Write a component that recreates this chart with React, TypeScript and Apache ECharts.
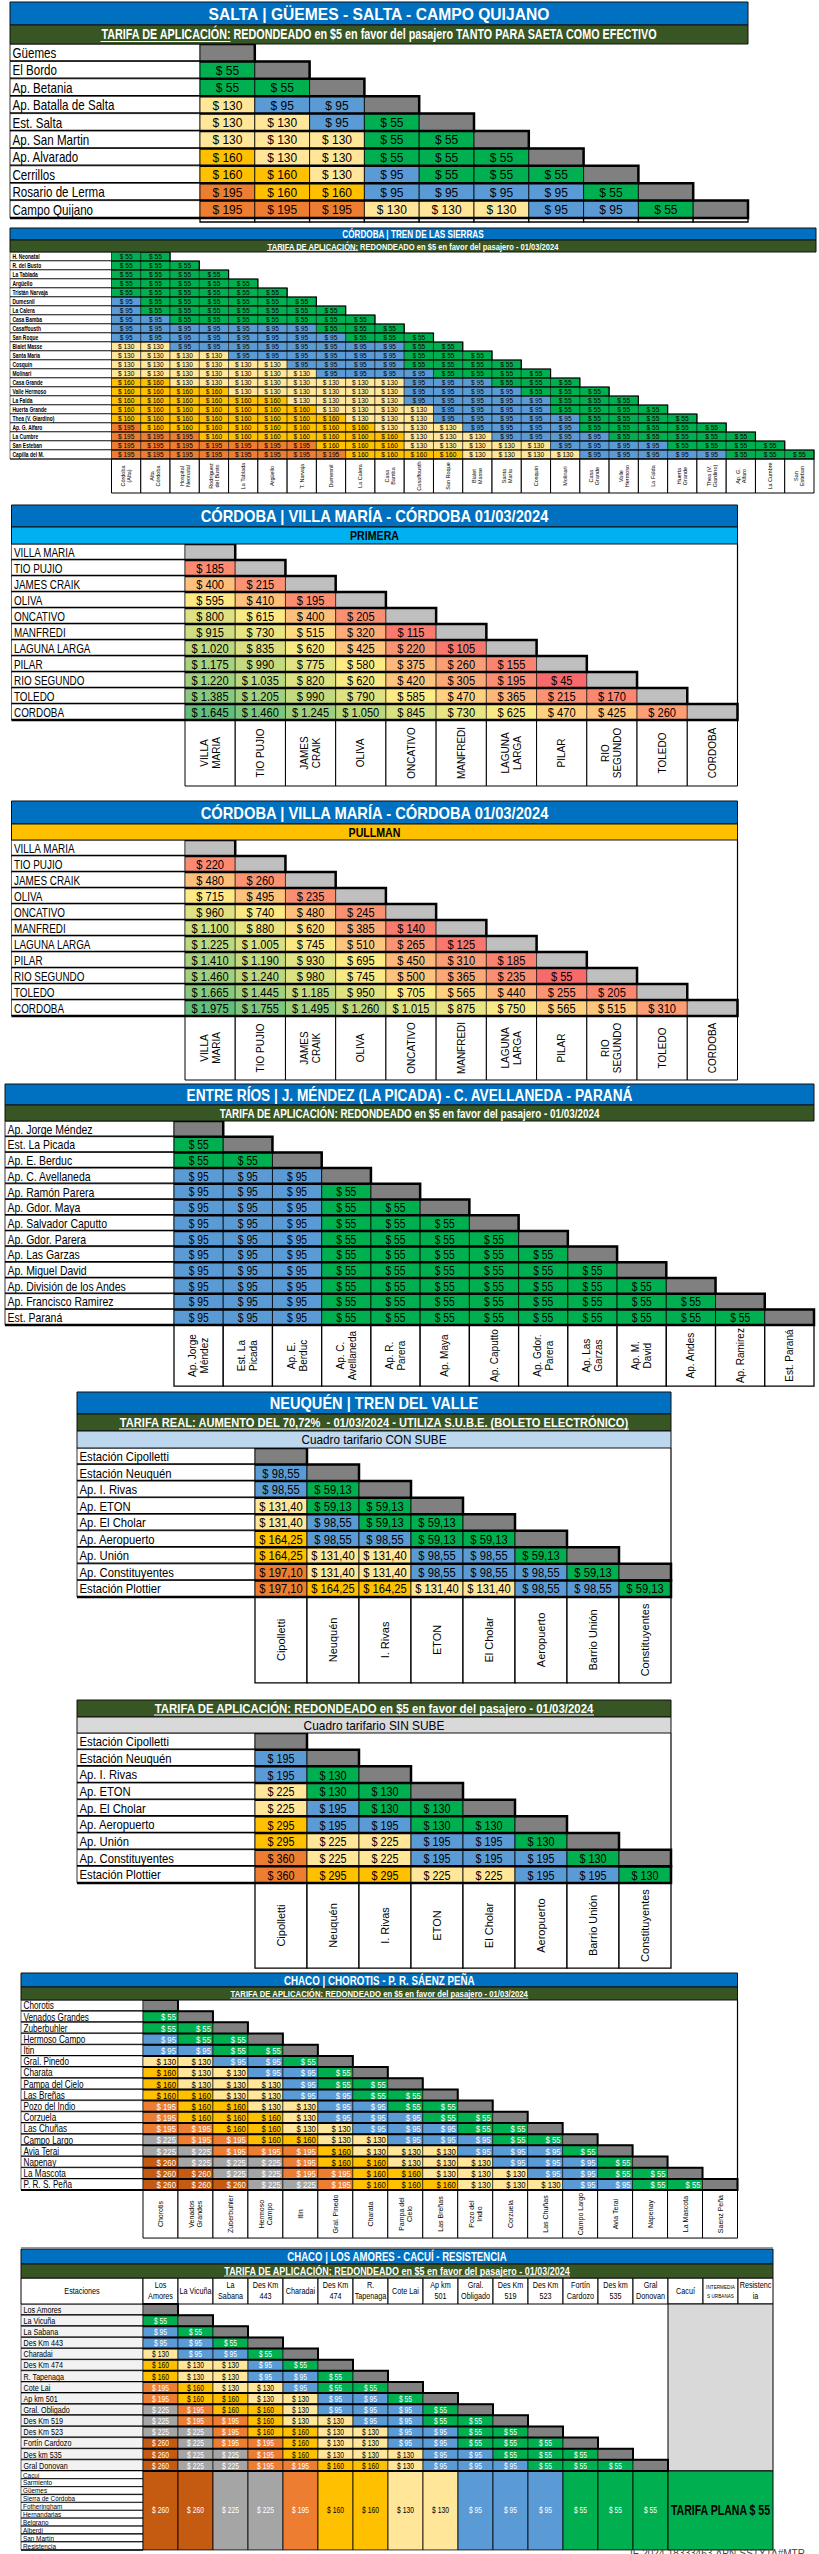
import React, { useEffect, useRef } from 'react';
import * as echarts from 'echarts';

// ===================== DATA =====================
// SALTA | Güemes - Salta - Campo Quijano
const saltaStations = ['Güemes', 'El Bordo', 'Ap. Betania', 'Ap. Batalla de Salta', 'Est. Salta', 'Ap. San Martin', 'Ap. Alvarado', 'Cerrillos', 'Rosario de Lerma', 'Campo Quijano'];
const saltaFares = [
  [],
  [55],
  [55, 55],
  [130, 95, 95],
  [130, 130, 95, 55],
  [130, 130, 130, 55, 55],
  [160, 130, 130, 55, 55, 55],
  [160, 160, 130, 95, 55, 55, 55],
  [195, 160, 160, 95, 95, 95, 95, 55],
  [195, 195, 195, 130, 130, 130, 95, 95, 55],
];

// CÓRDOBA | Tren de las Sierras
const sierrasRows = ['H. Neonatal', 'R. del Busto', 'La Tablada', 'Argüello', 'Tristán Narvaja', 'Dumesnil', 'La Calera', 'Casa Bamba', 'Casaffousth', 'San Roque', 'Bialet Masse', 'Santa María', 'Cosquín', 'Molinari', 'Casa Grande', 'Valle Hermoso', 'La Falda', 'Huerta Grande', 'Thea (V. Giardino)', 'Ap. G. Alfaro', 'La Cumbre', 'San Esteban', 'Capilla del M.'];
const sierrasCols = ['Córdoba\n(Alta)', 'Alta\nCórdoba', 'Hospital\nNeonatal', 'Rodríguez\ndel Busto', 'La Tablada', 'Argüello', 'T. Narvaja', 'Dumesnil', 'La Calera', 'Casa\nBamba', 'Casaffousth', 'San Roque', 'Bialet\nMasse', 'Santa\nMaría', 'Cosquín', 'Molinari', 'Casa\nGrande', 'Valle\nHermoso', 'La Falda', 'Huerta\nGrande', 'Thea (V.\nGiardino)', 'Ap. G.\nAlfaro', 'La Cumbre', 'San\nEsteban'];
const sierrasFares = [
  [55, 55],
  [55, 55, 55],
  [55, 55, 55, 55],
  [55, 55, 55, 55, 55],
  [55, 55, 55, 55, 55, 55],
  [95, 55, 55, 55, 55, 55, 55],
  [95, 55, 55, 55, 55, 55, 55, 55],
  [95, 95, 55, 55, 55, 55, 55, 55, 55],
  [95, 95, 95, 95, 95, 95, 95, 55, 55, 55],
  [95, 95, 95, 95, 95, 95, 95, 95, 55, 55, 55],
  [130, 130, 95, 95, 95, 95, 95, 95, 95, 95, 55, 55],
  [130, 130, 130, 130, 95, 95, 95, 95, 95, 95, 55, 55, 55],
  [130, 130, 130, 130, 130, 130, 95, 95, 95, 95, 55, 55, 55, 55],
  [130, 130, 130, 130, 130, 130, 130, 95, 95, 95, 95, 55, 55, 55, 55],
  [160, 160, 130, 130, 130, 130, 130, 130, 130, 130, 95, 95, 95, 55, 55, 55],
  [160, 160, 160, 160, 130, 130, 130, 130, 130, 130, 95, 95, 95, 95, 55, 55, 55],
  [160, 160, 160, 160, 160, 160, 130, 130, 130, 130, 95, 95, 95, 95, 95, 55, 55, 55],
  [160, 160, 160, 160, 160, 160, 160, 130, 130, 130, 130, 95, 95, 95, 95, 55, 55, 55, 55],
  [160, 160, 160, 160, 160, 160, 160, 160, 130, 130, 130, 95, 95, 95, 95, 95, 55, 55, 55, 55],
  [195, 160, 160, 160, 160, 160, 160, 160, 160, 130, 130, 130, 95, 95, 95, 95, 55, 55, 55, 55, 55],
  [195, 195, 195, 160, 160, 160, 160, 160, 160, 160, 130, 130, 130, 95, 95, 95, 95, 55, 55, 55, 55, 55],
  [195, 195, 195, 195, 195, 195, 195, 160, 160, 160, 130, 130, 130, 130, 130, 95, 95, 95, 95, 55, 55, 55, 55],
  [195, 195, 195, 195, 195, 195, 195, 195, 160, 160, 160, 160, 130, 130, 130, 130, 95, 95, 95, 95, 95, 55, 55, 55],
];

// CÓRDOBA | Villa María - Córdoba
const vmStations = ['VILLA MARIA', 'TIO PUJIO', 'JAMES CRAIK', 'OLIVA', 'ONCATIVO', 'MANFREDI', 'LAGUNA LARGA', 'PILAR', 'RIO SEGUNDO', 'TOLEDO', 'CORDOBA'];
const vmColLabels = ['VILLA\nMARIA', 'TIO PUJIO', 'JAMES\nCRAIK', 'OLIVA', 'ONCATIVO', 'MANFREDI', 'LAGUNA\nLARGA', 'PILAR', 'RIO\nSEGUNDO', 'TOLEDO', 'CORDOBA'];
const vmPrimera = [
  [],
  [185],
  [400, 215],
  [595, 410, 195],
  [800, 615, 400, 205],
  [915, 730, 515, 320, 115],
  [1020, 835, 620, 425, 220, 105],
  [1175, 990, 775, 580, 375, 260, 155],
  [1220, 1035, 820, 620, 420, 305, 195, 45],
  [1385, 1205, 990, 790, 585, 470, 365, 215, 170],
  [1645, 1460, 1245, 1050, 845, 730, 625, 470, 425, 260],
];
const vmPullman = [
  [],
  [220],
  [480, 260],
  [715, 495, 235],
  [960, 740, 480, 245],
  [1100, 880, 620, 385, 140],
  [1225, 1005, 745, 510, 265, 125],
  [1410, 1190, 930, 695, 450, 310, 185],
  [1460, 1240, 980, 745, 500, 365, 235, 55],
  [1665, 1445, 1185, 950, 705, 565, 440, 255, 205],
  [1975, 1755, 1495, 1260, 1015, 875, 750, 565, 515, 310],
];

// ENTRE RÍOS | J. Méndez (La Picada) - C. Avellaneda - Paraná
const erRows = ['Ap. Jorge Méndez', 'Est. La Picada', 'Ap. E. Berduc', 'Ap. C. Avellaneda', 'Ap. Ramón Parera', 'Ap. Gdor. Maya', 'Ap. Salvador Caputto', 'Ap. Gdor. Parera', 'Ap. Las Garzas', 'Ap. Miguel David', 'Ap. División de los Andes', 'Ap. Francisco Ramirez', 'Est. Paraná'];
const erCols = ['Ap. Jorge\nMéndez', 'Est. La\nPicada', 'Ap. E.\nBerduc', 'Ap. C.\nAvellaneda', 'Ap. R.\nParera', 'Ap. Maya', 'Ap. Caputto', 'Ap. Gdor.\nParera', 'Ap. Las\nGarzas', 'Ap. M.\nDavid', 'Ap. Andes', 'Ap. Ramirez', 'Est. Paraná'];
const erFares = [
  [],
  [55],
  [55, 55],
  [95, 95, 95],
  [95, 95, 95, 55],
  [95, 95, 95, 55, 55],
  [95, 95, 95, 55, 55, 55],
  [95, 95, 95, 55, 55, 55, 55],
  [95, 95, 95, 55, 55, 55, 55, 55],
  [95, 95, 95, 55, 55, 55, 55, 55, 55],
  [95, 95, 95, 55, 55, 55, 55, 55, 55, 55],
  [95, 95, 95, 55, 55, 55, 55, 55, 55, 55, 55],
  [95, 95, 95, 55, 55, 55, 55, 55, 55, 55, 55, 55],
];

// NEUQUÉN | Tren del Valle
const nqRows = ['Estación Cipolletti', 'Estación Neuquén', 'Ap. I. Rivas', 'Ap. ETON', 'Ap. El Cholar', 'Ap. Aeropuerto', 'Ap. Unión', 'Ap. Constituyentes', 'Estación Plottier'];
const nqCols = ['Cipolletti', 'Neuquén', 'I. Rivas', 'ETON', 'El Cholar', 'Aeropuerto', 'Barrio Unión', 'Constituyentes'];
const nqConSube = [
  [],
  [98.55],
  [98.55, 59.13],
  [131.40, 59.13, 59.13],
  [131.40, 98.55, 59.13, 59.13],
  [164.25, 98.55, 98.55, 59.13, 59.13],
  [164.25, 131.40, 131.40, 98.55, 98.55, 59.13],
  [197.10, 131.40, 131.40, 98.55, 98.55, 98.55, 59.13],
  [197.10, 164.25, 164.25, 131.40, 131.40, 98.55, 98.55, 59.13],
];
const nqSinSube = [
  [],
  [195],
  [195, 130],
  [225, 130, 130],
  [225, 195, 130, 130],
  [295, 195, 195, 130, 130],
  [295, 225, 225, 195, 195, 130],
  [360, 225, 225, 195, 195, 195, 130],
  [360, 295, 295, 225, 225, 195, 195, 130],
];

// CHACO | Chorotis - P. R. Sáenz Peña
const chRows = ['Chorotis', 'Venados Grandes', 'Zuberbuhler', 'Hermoso Campo', 'Itin', 'Gral. Pinedo', 'Charata', 'Pampa del Cielo', 'Las Breñas', 'Pozo del Indio', 'Corzuela', 'Las Chuñas', 'Campo Largo', 'Avia Terai', 'Napenay', 'La Mascota', 'P. R. S. Peña'];
const chCols = ['Chorotis', 'Venados\nGrandes', 'Zuberbuhler', 'Hermoso\nCampo', 'Itin', 'Gral. Pinedo', 'Charata', 'Pampa del\nCielo', 'Las Breñas', 'Pozo del\nIndio', 'Corzuela', 'Las Chuñas', 'Campo Largo', 'Avia Terai', 'Napenay', 'La Mascota', 'Saenz Peña'];
const chFares = [
  [],
  [55],
  [55, 55],
  [95, 55, 55],
  [95, 95, 55, 55],
  [130, 130, 95, 95, 55],
  [160, 130, 130, 95, 95, 55],
  [160, 130, 130, 130, 95, 55, 55],
  [160, 160, 130, 130, 95, 95, 55, 55],
  [195, 160, 160, 130, 130, 95, 95, 55, 55],
  [195, 160, 160, 160, 130, 95, 95, 95, 55, 55],
  [195, 195, 160, 160, 130, 130, 95, 95, 95, 55, 55],
  [225, 195, 195, 160, 160, 130, 130, 95, 95, 95, 55, 55],
  [225, 225, 195, 195, 195, 160, 130, 130, 130, 95, 95, 95, 55],
  [260, 225, 225, 225, 195, 160, 160, 130, 130, 130, 95, 95, 95, 55],
  [260, 260, 225, 225, 195, 195, 160, 160, 130, 130, 130, 95, 95, 55, 55],
  [260, 260, 260, 225, 225, 195, 160, 160, 160, 130, 130, 130, 95, 95, 55, 55],
];

// CHACO | Los Amores - Cacuí - Resistencia
const laRows = ['Los Amores', 'La Vicuña', 'La Sabana', 'Des Km 443', 'Charadai', 'Des Km 474', 'R. Tapenaga', 'Cote Lai', 'Ap km 501', 'Gral. Obligado', 'Des Km 519', 'Des Km 523', 'Fortín Cardozo', 'Des km 535', 'Gral Donovan'];
const laCols = ['Los Amores', 'La Vicuña', 'La Sabana', 'Des Km 443', 'Charadai', 'Des Km 474', 'R. Tapenaga', 'Cote Lai', 'Ap km 501', 'Gral. Obligado', 'Des Km 519', 'Des Km 523', 'Fortín Cardozo', 'Des km 535', 'Gral Donovan', 'Cacuí', 'Intermedias urbanas', 'Resistencia'];
const laColLabels = ['Los\nAmores', 'La Vicuña', 'La\nSabana', 'Des Km\n443', 'Charadai', 'Des Km\n474', 'R.\nTapenaga', 'Cote Lai', 'Ap km\n501', 'Gral.\nObligado', 'Des Km\n519', 'Des Km\n523', 'Fortín\nCardozo', 'Des km\n535', 'Gral\nDonovan', 'Cacuí', 'INTERMEDIA\nS URBANAS', 'Resistenc\nia'];
const laFares = [
  [],
  [55],
  [95, 55],
  [95, 95, 55],
  [130, 95, 95, 55],
  [160, 130, 130, 95, 55],
  [160, 130, 130, 95, 95, 55],
  [195, 160, 130, 130, 95, 55, 55],
  [195, 160, 160, 130, 130, 95, 95, 55],
  [225, 195, 160, 160, 130, 95, 95, 95, 55],
  [225, 195, 195, 160, 130, 130, 95, 95, 55, 55],
  [225, 225, 195, 160, 160, 130, 130, 95, 95, 55, 55],
  [260, 225, 195, 195, 160, 130, 130, 95, 95, 55, 55, 55],
  [260, 225, 225, 195, 160, 130, 130, 130, 95, 95, 55, 55, 55],
  [260, 225, 225, 195, 195, 160, 160, 130, 95, 95, 95, 55, 55, 55],
];
const laUrbanRows = ['Cacuí', 'Sarmiento', 'Güemes', 'Sierra de Córdoba', 'Fotheringham', 'Hernandarias', 'Belgrano', 'Alberdi', 'San Martín', 'Resistencia'];
const laUrbanFares = [260, 260, 225, 225, 195, 160, 160, 130, 130, 95, 95, 95, 55, 55, 55];
const laFlatFare = 55;

// ===================== STYLE HELPERS =====================
const FONT = "'Liberation Sans', Arial, sans-serif";
const TIER_COLORS = ['#00B050', '#5B9BD5', '#FFE699', '#FFC000', '#ED7D31', '#A5A5A5', '#C55A11'];

let _ctx: any = null;
function tw(text: string, size: number, weight = 'normal', family = FONT) {
  if (!_ctx) _ctx = document.createElement('canvas').getContext('2d');
  _ctx.font = `${weight} ${size}px ${family}`;
  return Math.max(...String(text).split('\n').map((s) => _ctx.measureText(s).width));
}

function money(v: number, dec: number) {
  const [i, f] = v.toFixed(dec).split('.');
  return '$ ' + i.replace(/\B(?=(\d{3})+(?!\d))/g, '.') + (f ? ',' + f : '');
}

function tierScale(values: number[]) {
  const distinct = Array.from(new Set(values)).sort((a, b) => a - b);
  return {
    color: (v: number) => TIER_COLORS[distinct.indexOf(v)] || '#fff',
    rank: (v: number) => distinct.indexOf(v),
  };
}

function hex(c: string) { return [1, 3, 5].map((i) => parseInt(c.slice(i, i + 2), 16)); }
function lerp(a: string, b: string, t: number) {
  const A = hex(a), B = hex(b);
  const k = Math.max(0, Math.min(1, t));
  return 'rgb(' + A.map((x, i) => Math.round(x + (B[i] - x) * k)).join(',') + ')';
}
function excelScale(values: number[]) {
  const s = [...values].sort((a, b) => a - b);
  const min = s[0], max = s[s.length - 1];
  const n = s.length;
  const mid = n % 2 ? s[(n - 1) / 2] : (s[n / 2 - 1] + s[n / 2]) / 2;
  return (v: number) => (v <= mid ? lerp('#F8696B', '#FFEB84', (v - min) / (mid - min)) : lerp('#FFEB84', '#63BE7B', (v - mid) / (max - mid)));
}

// ===================== TABLE DEFINITIONS =====================
const TABLES: any[] = [
  {
    key: 'salta', rows: saltaStations, cols: saltaStations, fares: saltaFares, diag: true, scale: 'tier',
    box: { x0: 10, xl: 200, xr: 748, top: 44, rh: 17.4, colH: 4 },
    labelFont: 14, labelFit: ['Ap. Batalla de Salta', 102], cellFont: 13, cellFit: ['$ 130', 30],
    thick: 2.5, thin: 0.8, diagColor: '#808080', dec: 0,
  },
  {
    key: 'sierras', rows: sierrasRows, cols: sierrasCols, fares: sierrasFares, diag: false, scale: 'tier',
    box: { x0: 10, xl: 111.5, xr: 814, top: 252, rh: 9, colH: 34 },
    labelFont: 6.5, labelBold: true, labelFit: ['Thea (V. Giardino)', 42], cellFont: 6.3, cellFit: ['$ 130', 16.5],
    colFont: 5.5, thick: 1.2, thin: 0.5, diagColor: '#808080', dec: 0,
  },
  {
    key: 'vm1', rows: vmStations, cols: vmColLabels, fares: vmPrimera, diag: true, scale: 'excel',
    box: { x0: 11.5, xl: 185, xr: 737.5, top: 544, rh: 16, colH: 66 },
    labelFont: 12, labelFit: ['LAGUNA LARGA', 77], cellFont: 12, cellFit: ['$ 1.645', 37],
    colFont: 10, thick: 2.5, thin: 0.6, diagColor: '#BFBFBF', dec: 0,
  },
  {
    key: 'vm2', rows: vmStations, cols: vmColLabels, fares: vmPullman, diag: true, scale: 'excel',
    box: { x0: 11.5, xl: 185, xr: 737.5, top: 840, rh: 16, colH: 64 },
    labelFont: 12, labelFit: ['LAGUNA LARGA', 77], cellFont: 12, cellFit: ['$ 1.645', 37],
    colFont: 10, thick: 2.5, thin: 0.6, diagColor: '#BFBFBF', dec: 0,
  },
  {
    key: 'er', rows: erRows, cols: erCols, fares: erFares, diag: true, scale: 'tier',
    box: { x0: 5, xl: 174, xr: 814, top: 1121, rh: 15.7, colH: 61 },
    labelFont: 13, labelFit: ['Ap. División de los Andes', 119], cellFont: 12, cellFit: ['$ 95', 20],
    colFont: 10, thick: 2.5, thin: 0.8, diagColor: '#808080', dec: 0,
  },
  {
    key: 'nq1', rows: nqRows, cols: nqCols, fares: nqConSube, diag: true, scale: 'tier',
    box: { x0: 77, xl: 255, xr: 671, top: 1448, rh: 16.55, colH: 86 },
    labelFont: 13, labelFit: ['Ap. Constituyentes', 94.5], cellFont: 13, cellFit: ['$ 131,40', 43.5],
    colFont: 11, thick: 2.5, thin: 0.8, diagColor: '#808080', dec: 2,
  },
  {
    key: 'nq2', rows: nqRows, cols: nqCols, fares: nqSinSube, diag: true, scale: 'tier',
    box: { x0: 77, xl: 255, xr: 671, top: 1733, rh: 16.67, colH: 85 },
    labelFont: 13, labelFit: ['Ap. Constituyentes', 94.5], cellFont: 13, cellFit: ['$ 225', 27],
    colFont: 11, thick: 2.5, thin: 0.8, diagColor: '#808080', dec: 0,
  },
  {
    key: 'ch', rows: chRows, cols: chCols, fares: chFares, diag: true, scale: 'tier', lightText: true,
    box: { x0: 21, xl: 143, xr: 737.5, top: 2000, rh: 11.18, colH: 48 },
    labelFont: 10, labelFit: ['Venados Grandes', 65.6], cellFont: 9, cellFit: ['$ 130', 19.4], cellAlign: 'right',
    colFont: 7, thick: 2, thin: 0.6, diagColor: '#808080', dec: 0,
  },
  {
    key: 'la', rows: laRows, cols: laCols, fares: laFares, diag: true, scale: 'tier', lightText: true,
    box: { x0: 21, xl: 143, xr: 773, top: 2304, rh: 11.13, colH: 0 },
    labelFont: 9, labelFit: ['Fortín Cardozo', 48], labelFill: '#F2F2F2', cellFont: 8.5, cellFit: ['$ 130', 16.8],
    thick: 2, thin: 0.6, diagColor: '#808080', dec: 0,
  },
];

const BARS: any[] = [
  { x1: 10, x2: 748, y1: 2, y2: 25, fill: '#0070C0', text: 'SALTA | GÜEMES - SALTA - CAMPO QUIJANO', fs: 17, color: '#fff', w: 'bold', target: 342 },
  { x1: 10, x2: 748, y1: 25, y2: 44, fill: '#375623', text: 'TARIFA DE APLICACIÓN: REDONDEADO en $5 en favor del pasajero TANTO PARA SAETA COMO EFECTIVO', fs: 14, color: '#fff', w: 'bold', target: 557, ul: 'TARIFA DE APLICACIÓN:' },
  { x1: 10, x2: 816, y1: 228, y2: 240, fill: '#0070C0', text: 'CÓRDOBA | TREN DE LAS SIERRAS', fs: 10, color: '#fff', w: 'bold', target: 142 },
  { x1: 10, x2: 816, y1: 240, y2: 252, fill: '#375623', text: 'TARIFA DE APLICACIÓN: REDONDEADO en $5 en favor del pasajero - 01/03/2024', fs: 9, color: '#fff', w: 'bold', target: 292, ul: 'TARIFA DE APLICACIÓN:' },
  { x1: 11.5, x2: 737.5, y1: 505, y2: 527, fill: '#0070C0', text: 'CÓRDOBA | VILLA MARÍA - CÓRDOBA 01/03/2024', fs: 17, color: '#fff', w: 'bold', target: 350 },
  { x1: 11.5, x2: 737.5, y1: 527, y2: 544, fill: '#00B0F0', text: 'PRIMERA', fs: 13, color: '#000', w: 'bold', target: 49 },
  { x1: 11.5, x2: 737.5, y1: 801, y2: 824, fill: '#0070C0', text: 'CÓRDOBA | VILLA MARÍA - CÓRDOBA 01/03/2024', fs: 17, color: '#fff', w: 'bold', target: 350 },
  { x1: 11.5, x2: 737.5, y1: 824, y2: 840, fill: '#FFC000', text: 'PULLMAN', fs: 13, color: '#000', w: 'bold', target: 52 },
  { x1: 5, x2: 814, y1: 1084, y2: 1105, fill: '#0070C0', text: 'ENTRE RÍOS | J. MÉNDEZ (LA PICADA) - C. AVELLANEDA - PARANÁ', fs: 17, color: '#fff', w: 'bold', target: 448 },
  { x1: 5, x2: 814, y1: 1105, y2: 1121, fill: '#375623', text: 'TARIFA DE APLICACIÓN: REDONDEADO en $5 en favor del pasajero - 01/03/2024', fs: 12.5, color: '#fff', w: 'bold', target: 381 },
  { x1: 77, x2: 671, y1: 1392, y2: 1414, fill: '#0070C0', text: 'NEUQUÉN | TREN DEL VALLE', fs: 17, color: '#fff', w: 'bold', target: 209 },
  { x1: 77, x2: 671, y1: 1414, y2: 1431, fill: '#375623', text: 'TARIFA REAL: AUMENTO DEL 70,72%  - 01/03/2024 - UTILIZA S.U.B.E. (BOLETO ELECTRÓNICO)', fs: 13, color: '#fff', w: 'bold', target: 510, ul: 'all' },
  { x1: 77, x2: 671, y1: 1431, y2: 1448, fill: '#BDD7EE', text: 'Cuadro tarifario CON SUBE', fs: 13, color: '#000', w: 'normal', target: 145 },
  { x1: 77, x2: 671, y1: 1700, y2: 1717, fill: '#375623', text: 'TARIFA DE APLICACIÓN: REDONDEADO en $5 en favor del pasajero - 01/03/2024', fs: 13, color: '#fff', w: 'bold', target: 440, ul: 'all' },
  { x1: 77, x2: 671, y1: 1717, y2: 1733, fill: '#D9D9D9', text: 'Cuadro tarifario SIN SUBE', fs: 13, color: '#000', w: 'normal', target: 141 },
  { x1: 21, x2: 737.5, y1: 1973, y2: 1987, fill: '#0070C0', text: 'CHACO | CHOROTIS - P. R. SÁENZ PEÑA', fs: 12, color: '#fff', w: 'bold', target: 191 },
  { x1: 21, x2: 737.5, y1: 1987, y2: 2000, fill: '#375623', text: 'TARIFA DE APLICACIÓN: REDONDEADO en $5 en favor del pasajero - 01/03/2024', fs: 9.5, color: '#fff', w: 'bold', target: 298, ul: 'all' },
  { x1: 21, x2: 773, y1: 2249, y2: 2264, fill: '#0070C0', text: 'CHACO | LOS AMORES - CACUÍ - RESISTENCIA', fs: 12, color: '#fff', w: 'bold', target: 220 },
  { x1: 21, x2: 773, y1: 2264, y2: 2278, fill: '#375623', text: 'TARIFA DE APLICACIÓN: REDONDEADO en $5 en favor del pasajero - 01/03/2024', fs: 10, color: '#fff', w: 'bold', target: 346, ul: 'all' },
];

// ===================== BUILDERS =====================
function addGrid(acc: any, left: number, top: number, width: number, height: number, xCats: string[], yCats: string[]) {
  const gi = acc.grid.length;
  acc.grid.push({ left, top, width, height, show: false, containLabel: false });
  acc.xAxis.push({ type: 'category', gridIndex: gi, data: xCats, show: false });
  acc.yAxis.push({ type: 'category', gridIndex: gi, data: yCats, show: false, inverse: true });
  return gi;
}

function cellBox(api: any, c: number, r: number) {
  const [cx, cy] = api.coord([c, r]);
  const [w, h] = api.size([1, 1]);
  return { cx, cy, w, h, x: cx - w / 2, y: cy - h / 2 };
}

function txt(x: number, y: number, text: string, fs: number, fill: string, opts: any = {}) {
  return {
    type: 'text', x, y, scaleX: opts.sx || 1, rotation: opts.rot || 0,
    style: {
      text, fill, fontSize: fs, fontFamily: opts.family || FONT, fontWeight: opts.weight || 'normal',
      align: opts.align || 'center', verticalAlign: 'middle', lineHeight: opts.lh || Math.round(fs * 1.15),
    },
  };
}

function addTable(acc: any, t: any) {
  const b = t.box;
  const nR = t.rows.length;
  const nC = t.cols.length;
  const H = nR * b.rh;
  const all = t.fares.flat();
  const tier = tierScale(all);
  const colorOf = t.scale === 'excel' ? excelScale(all) : tier.color;
  const textOf = (v: number) => (t.lightText && [0, 1, 4, 5, 6].includes(tier.rank(v)) ? '#fff' : '#000');
  const lw = t.labelBold ? 'bold' : 'normal';
  const lsx = t.labelFit ? t.labelFit[1] / tw(t.labelFit[0], t.labelFont, lw) : 1;
  const csx = t.cellFit ? t.cellFit[1] / tw(t.cellFit[0], t.cellFont) : 1;

  // row labels
  const gL = addGrid(acc, b.x0, b.top, b.xl - b.x0, H, ['_'], t.rows);
  acc.series.push({
    type: 'custom', xAxisIndex: gL, yAxisIndex: gL, silent: true, z: 2,
    data: t.rows.map((_: string, i: number) => [0, i]),
    renderItem: (_p: any, api: any) => {
      const r = api.value(1);
      const k = cellBox(api, 0, r);
      return {
        type: 'group', children: [
          { type: 'rect', shape: { x: k.x, y: k.y, width: k.w, height: k.h }, style: { fill: t.labelFill || '#fff', stroke: '#000', lineWidth: t.thin } },
          txt(k.x + 2.5, k.cy + 0.5, t.rows[r], t.labelFont, '#000', { align: 'left', sx: lsx, weight: lw }),
          { type: 'line', shape: { x1: k.x, y1: k.y + k.h, x2: k.x + k.w, y2: k.y + k.h }, style: { stroke: '#000', lineWidth: t.thick } },
        ],
      };
    },
  });

  // fare cells
  const gD = addGrid(acc, b.xl, b.top, b.xr - b.xl, H, t.cols, t.rows);
  const cells: number[][] = [];
  t.fares.forEach((row: number[], r: number) => {
    row.forEach((v, c) => cells.push([c, r, v]));
    if (t.diag && r < nC) cells.push([r, r, -1]);
  });
  acc.series.push({
    type: 'custom', xAxisIndex: gD, yAxisIndex: gD, silent: true, z: 2,
    data: cells,
    renderItem: (_p: any, api: any) => {
      const c = api.value(0), r = api.value(1), v = api.value(2);
      const k = cellBox(api, c, r);
      const children: any[] = [
        { type: 'rect', shape: { x: k.x, y: k.y, width: k.w, height: k.h }, style: { fill: v < 0 ? t.diagColor : colorOf(v), stroke: '#000', lineWidth: t.thin } },
      ];
      if (v >= 0) {
        const right = t.cellAlign === 'right';
        children.push(txt(right ? k.x + k.w - 2 : k.cx, k.cy + 0.5, money(v, t.dec), t.cellFont, textOf(v), { align: right ? 'right' : 'center', sx: csx }));
      }
      return { type: 'group', children };
    },
  });

  // staircase outline + thick row separators
  const stairs: number[][] = [];
  t.fares.forEach((row: number[], r: number) => {
    const last = t.diag && r < nC ? r : row.length - 1;
    if (last >= 0) stairs.push([last, r]);
  });
  acc.series.push({
    type: 'custom', xAxisIndex: gD, yAxisIndex: gD, silent: true, z: 3,
    data: stairs,
    renderItem: (_p: any, api: any) => {
      const last = api.value(0), r = api.value(1);
      const k = cellBox(api, last, r);
      const x0 = api.coord([0, r])[0] - k.w / 2;
      return {
        type: 'polyline',
        shape: { points: [[x0, k.y + k.h], [k.x + k.w, k.y + k.h], [k.x + k.w, k.y], [k.x, k.y]] },
        style: { stroke: '#000', lineWidth: t.thick, fill: 'none' },
      };
    },
  });

  // column labels
  if (b.colH > 0) {
    const gC = addGrid(acc, b.xl, b.top + H, b.xr - b.xl, b.colH, t.cols, ['_']);
    acc.series.push({
      type: 'custom', xAxisIndex: gC, yAxisIndex: gC, silent: true, z: 2,
      data: t.cols.map((_: string, c: number) => [c, 0]),
      renderItem: (_p: any, api: any) => {
        const c = api.value(0);
        const k = cellBox(api, c, 0);
        const children: any[] = [
          { type: 'rect', shape: { x: k.x, y: k.y, width: k.w, height: k.h }, style: { fill: '#fff', stroke: '#000', lineWidth: Math.max(1, t.thin * 1.6) } },
        ];
        if (t.colFont) {
          const label = t.cols[c];
          const sx = Math.min(1, (k.h - 4) / tw(label, t.colFont));
          children.push(txt(k.cx, k.cy, label, t.colFont, '#000', { rot: Math.PI / 2, sx }));
        }
        return { type: 'group', children };
      },
    });
  }
  return { gL, gD, colorOf, textOf, csx };
}

function addAmores(acc: any, t: any, info: any) {
  // header row with column names
  const gHL = addGrid(acc, 21, 2278, 122, 26, ['_'], ['_']);
  acc.series.push({
    type: 'custom', xAxisIndex: gHL, yAxisIndex: gHL, silent: true, z: 2, data: [[0, 0]],
    renderItem: (_p: any, api: any) => {
      const k = cellBox(api, 0, 0);
      return {
        type: 'group', children: [
          { type: 'rect', shape: { x: k.x, y: k.y, width: k.w, height: k.h }, style: { fill: '#fff', stroke: '#000', lineWidth: 1 } },
          txt(k.cx, k.cy, 'Estaciones', 8.5, '#000', { sx: 0.85 }),
        ],
      };
    },
  });
  const gH = addGrid(acc, 143, 2278, 630, 26, laCols, ['_']);
  acc.series.push({
    type: 'custom', xAxisIndex: gH, yAxisIndex: gH, silent: true, z: 2,
    data: laCols.map((_, c) => [c, 0]),
    renderItem: (_p: any, api: any) => {
      const c = api.value(0);
      const k = cellBox(api, c, 0);
      const label = laColLabels[c];
      const fs = label.startsWith('INTER') ? 5.5 : 8.5;
      const sx = Math.min(0.85, (k.w - 2) / tw(label, fs));
      return {
        type: 'group', children: [
          { type: 'rect', shape: { x: k.x, y: k.y, width: k.w, height: k.h }, style: { fill: '#fff', stroke: '#000', lineWidth: 1 } },
          txt(k.cx, k.cy, label, fs, '#000', { sx, lh: fs < 7 ? 9 : 11 }),
        ],
      };
    },
  });
  // merged grey block over Cacuí / Intermedias / Resistencia columns
  acc.series.push({
    type: 'custom', xAxisIndex: info.gD, yAxisIndex: info.gD, silent: true, z: 2,
    data: [[15, 0, 17, laRows.length - 1]],
    renderItem: (_p: any, api: any) => {
      const a = cellBox(api, api.value(0), api.value(1));
      const z = cellBox(api, api.value(2), api.value(3));
      return { type: 'rect', shape: { x: a.x, y: a.y, width: z.x + z.w - a.x, height: z.y + z.h - a.y }, style: { fill: '#D9D9D9', stroke: '#000', lineWidth: 1 } };
    },
  });
  // urban stations rows
  const bTop = 2304 + laRows.length * t.box.rh;
  const bH = 79;
  const gBL = addGrid(acc, 21, bTop, 122, bH, ['_'], laUrbanRows);
  acc.series.push({
    type: 'custom', xAxisIndex: gBL, yAxisIndex: gBL, silent: true, z: 2,
    data: laUrbanRows.map((_, i) => [0, i]),
    renderItem: (_p: any, api: any) => {
      const r = api.value(1);
      const k = cellBox(api, 0, r);
      return {
        type: 'group', children: [
          { type: 'rect', shape: { x: k.x, y: k.y, width: k.w, height: k.h }, style: { fill: '#fff', stroke: '#000', lineWidth: 0.6 } },
          txt(k.x + 2, k.cy, laUrbanRows[r], 7.5, '#000', { align: 'left', sx: 0.85 }),
          { type: 'line', shape: { x1: k.x, y1: k.y + k.h, x2: k.x + k.w, y2: k.y + k.h }, style: { stroke: '#000', lineWidth: 1.6 } },
        ],
      };
    },
  });
  const gB = addGrid(acc, 143, bTop, 630, bH, laCols, ['_']);
  acc.series.push({
    type: 'custom', xAxisIndex: gB, yAxisIndex: gB, silent: true, z: 2,
    data: laUrbanFares.map((v, c) => [c, 0, v]),
    renderItem: (_p: any, api: any) => {
      const c = api.value(0), v = api.value(2);
      const k = cellBox(api, c, 0);
      return {
        type: 'group', children: [
          { type: 'rect', shape: { x: k.x, y: k.y, width: k.w, height: k.h }, style: { fill: info.colorOf(v), stroke: '#000', lineWidth: 0.8 } },
          txt(k.cx, k.cy, money(v, 0), 8.5, info.textOf(v), { sx: info.csx }),
        ],
      };
    },
  });
  acc.series.push({
    type: 'custom', xAxisIndex: gB, yAxisIndex: gB, silent: true, z: 2,
    data: [[15, 0, 17, laFlatFare]],
    renderItem: (_p: any, api: any) => {
      const a = cellBox(api, api.value(0), 0);
      const z = cellBox(api, api.value(2), 0);
      const v = api.value(3);
      const W = z.x + z.w - a.x;
      const label = 'TARIFA PLANA ' + money(v, 0);
      const sx = 100 / tw(label, 14, 'bold');
      return {
        type: 'group', children: [
          { type: 'rect', shape: { x: a.x, y: a.y, width: W, height: a.h }, style: { fill: info.colorOf(v), stroke: '#000', lineWidth: 1 } },
          txt(a.x + W / 2, a.cy, label, 14, '#000', { sx, weight: 'bold' }),
        ],
      };
    },
  });
}

function barEls(b: any) {
  const cx = (b.x1 + b.x2) / 2, cy = (b.y1 + b.y2) / 2;
  const w0 = tw(b.text, b.fs, b.w);
  const sx = b.target ? b.target / w0 : 1;
  const els: any[] = [
    { type: 'rect', z: 5, shape: { x: b.x1, y: b.y1, width: b.x2 - b.x1, height: b.y2 - b.y1 }, style: { fill: b.fill, stroke: '#111', lineWidth: 1 } },
    { type: 'text', z: 6, x: cx, y: cy + 0.5, scaleX: sx, style: { text: b.text, fill: b.color, fontSize: b.fs, fontFamily: FONT, fontWeight: b.w, align: 'center', verticalAlign: 'middle' } },
  ];
  if (b.ul) {
    const W = w0 * sx;
    const start = cx - W / 2;
    const uw = b.ul === 'all' ? W : tw(b.ul, b.fs, b.w) * sx;
    const uy = cy + b.fs * 0.5;
    els.push({ type: 'line', z: 6, shape: { x1: start, y1: uy, x2: start + uw, y2: uy }, style: { stroke: b.color, lineWidth: Math.max(0.8, b.fs / 13) } });
  }
  return els;
}

function buildOption() {
  const acc: any = { grid: [], xAxis: [], yAxis: [], series: [], graphic: [] };
  const infos: any = {};
  TABLES.forEach((t) => { infos[t.key] = addTable(acc, t); });
  addAmores(acc, TABLES[TABLES.length - 1], infos.la);
  BARS.forEach((b) => acc.graphic.push(...barEls(b)));
  // outer right borders of framed tables
  const frames = [
    [737.5, 544, 720], [737.5, 840, 1016], [671, 1448, 1597], [671, 1733, 1883], [737.5, 2000, 2190],
  ];
  frames.forEach(([x, y1, y2]) => acc.graphic.push({ type: 'line', z: 4, shape: { x1: x, y1, x2: x, y2 }, style: { stroke: '#000', lineWidth: 1.2 } }));
  acc.graphic.push({ type: 'line', z: 4, shape: { x1: 21, y1: 2247.5, x2: 773, y2: 2247.5 }, style: { stroke: '#999', lineWidth: 1 } });
  acc.graphic.push({ type: 'text', z: 6, x: 630, y: 2548, style: { text: 'IF-2024-18333463-APN-SSTYTA#MTR', fill: '#444', fontSize: 10, fontFamily: FONT, align: 'left', verticalAlign: 'top' } });
  return {
    animation: false,
    backgroundColor: '#fff',
    grid: acc.grid,
    xAxis: acc.xAxis,
    yAxis: acc.yAxis,
    series: acc.series,
    graphic: { elements: acc.graphic },
  };
}

export default function App() {
  const ref = useRef<HTMLDivElement>(null);
  useEffect(() => {
    if (!ref.current) return;
    const chart = echarts.init(ref.current, null, { renderer: 'svg' });
    chart.setOption(buildOption() as any);
    return () => chart.dispose();
  }, []);
  return <div ref={ref} style={{ position: 'absolute', left: 0, top: 0, width: 819, height: 2554, background: '#fff' }} />;
}
